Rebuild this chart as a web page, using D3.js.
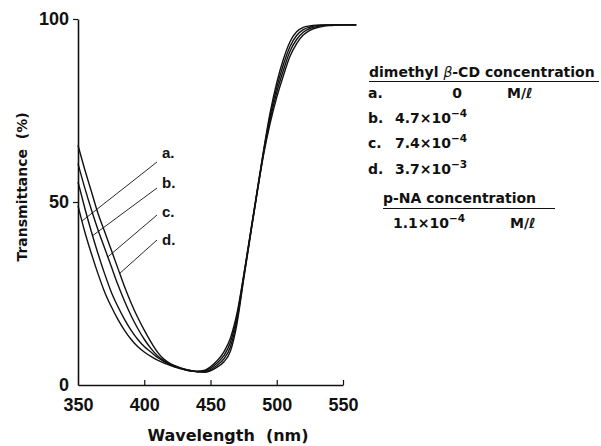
<!DOCTYPE html>
<html>
<head>
<meta charset="utf-8">
<script src="https://cdn.jsdelivr.net/npm/d3@7/dist/d3.min.js"></script>
<style>
  body { margin: 0; background: #fff; }
  svg text { fill: #111; }
</style>
</head>
<body>
<svg id="chart" width="601" height="446"></svg>
<script>
// wavelength grid (nm)
var wavelengths = [350, 355, 360, 365, 370, 375, 380, 385, 390, 395, 400, 405, 410, 415, 420, 425, 430, 435, 440, 445, 450,
  455, 460, 465, 470, 475, 480, 485, 490, 495, 500, 505, 510, 515, 520, 525, 530, 535, 540, 545, 550, 555, 560];

// transmittance (%)
var seriesA = [49, 42, 36, 30.5, 25.5, 21.5, 18, 15, 12.5, 10.5, 9, 7.8, 6.8, 6, 5.3, 4.7, 4.2, 3.8, 3.8, 4, 5,
  6.6, 9, 12.8, 19.6, 29.9, 41.2, 52.6, 64, 74.4, 82.6, 89, 93.8, 96.5, 97.7, 98.1, 98.3, 98.4, 98.4, 98.4, 98.4, 98.4, 98.4];
var seriesB = [55.5, 48.5, 42, 36, 30.5, 25.5, 21.5, 18, 15, 12.5, 10.5, 9, 7.5, 6.4, 5.5, 4.8, 4.3, 3.9, 3.7, 3.8, 4.6,
  6, 8, 11.6, 18.8, 29.6, 41, 52.4, 63.6, 73.5, 81.3, 87.5, 92.5, 95.5, 97.1, 97.8, 98.2, 98.3, 98.4, 98.4, 98.4, 98.4, 98.4];
var seriesC = [60.5, 54, 48, 42.5, 37.5, 32.5, 27.5, 23, 19, 15.5, 12.5, 10, 8, 6.6, 5.6, 4.9, 4.3, 3.9, 3.6, 3.6, 4.2,
  5.4, 7.1, 10.4, 17.8, 29.2, 40.8, 52.2, 63.2, 72.5, 80, 86, 91.2, 94.4, 96.4, 97.4, 97.9, 98.2, 98.3, 98.4, 98.4, 98.4, 98.4];
var seriesD = [65.5, 59, 53, 47, 42, 37, 32, 27, 22.5, 18.5, 15, 11.8, 9, 7, 5.8, 5, 4.4, 4, 3.6, 3.5, 3.9,
  4.9, 6.3, 9.2, 16.8, 28.8, 40.5, 52, 62.8, 71.5, 78.6, 84.5, 89.8, 93.3, 95.6, 96.9, 97.6, 98, 98.2, 98.3, 98.4, 98.4, 98.4];

var seriesNames = ["a.", "b.", "c.", "d."];
// wavelength where each leader line meets its curve
var leaderWl = [353, 361, 372.5, 381.5];

var xTicks = [350, 400, 450, 500, 550];
var yTicks = [0, 50, 100];

var legendTitle = "concentration";
var legendConc = ["0", "4.7×10", "7.4×10", "3.7×10"];
var legendExp = ["", "−4", "−4", "−3"];
var pnaConc = "1.1×10";
var pnaExp = "−4";

var svg = d3.select("#chart");

var x = d3.scaleLinear().domain([350, 550]).range([78, 343]);
var y = d3.scaleLinear().domain([0, 100]).range([385, 19]);

var tickFont = "'Liberation Sans', Arial, sans-serif";
var textFont = "'DejaVu Sans', sans-serif";

// axes
var xAxis = svg.append("g")
  .attr("transform", "translate(0," + y(0) + ")")
  .call(d3.axisBottom(x).tickValues(xTicks).tickSize(-5).tickSizeOuter(0).tickPadding(13));
var yAxis = svg.append("g")
  .attr("transform", "translate(" + x(350) + ",0)")
  .call(d3.axisLeft(y).tickValues(yTicks).tickSize(5).tickSizeOuter(0).tickPadding(4));

[xAxis, yAxis].forEach(function(g) {
  g.select(".domain").attr("stroke", "#111").attr("stroke-width", 1.6);
  g.selectAll(".tick line").attr("stroke", "#111").attr("stroke-width", 1.2);
  g.selectAll(".tick text")
    .attr("fill", "#111")
    .style("font-family", tickFont)
    .style("font-weight", "bold")
    .style("font-size", "18px");
});
yAxis.selectAll(".tick").filter(function(d) { return d === 0; }).select("line").remove();
xAxis.selectAll(".tick").filter(function(d) { return d === 350; }).select("line").remove();

// axis titles
svg.append("text")
  .attr("x", 228).attr("y", 441)
  .attr("text-anchor", "middle")
  .style("font-family", textFont).style("font-weight", "bold").style("font-size", "16px")
  .attr("xml:space", "preserve")
  .text("Wavelength  (nm)");

svg.append("text")
  .attr("transform", "translate(27,187) rotate(-90)")
  .attr("text-anchor", "middle")
  .style("font-family", textFont).style("font-weight", "bold").style("font-size", "14px")
  .attr("xml:space", "preserve")
  .text("Transmittance  (%)");

// curves
var allSeries = [seriesA, seriesB, seriesC, seriesD];
var line = d3.line()
  .x(function(d) { return x(d[0]); })
  .y(function(d) { return y(d[1]); })
  .curve(d3.curveMonotoneX);

svg.append("g").selectAll("path")
  .data(allSeries)
  .enter().append("path")
  .attr("d", function(s) {
    return line(s.map(function(v, i) { return [wavelengths[i], v]; }));
  })
  .attr("fill", "none")
  .attr("stroke", "#111")
  .attr("stroke-width", 1.4);

// curve labels with leader lines
var labelX = 162;
var labelBase = [158, 188, 217, 245];
var leaderTop = [162, 188, 215, 240];

function valueAt(s, wl) {
  var i = d3.bisectLeft(wavelengths, wl);
  if (i <= 0) return s[0];
  var t = (wl - wavelengths[i - 1]) / (wavelengths[i] - wavelengths[i - 1]);
  return s[i - 1] + t * (s[i] - s[i - 1]);
}

var labels = svg.append("g").selectAll("g")
  .data(seriesNames)
  .enter().append("g");

labels.append("line")
  .attr("x1", labelX - 5)
  .attr("y1", function(d, i) { return leaderTop[i]; })
  .attr("x2", function(d, i) { return x(leaderWl[i]); })
  .attr("y2", function(d, i) { return y(valueAt(allSeries[i], leaderWl[i])); })
  .attr("stroke", "#111")
  .attr("stroke-width", 0.9);

labels.append("text")
  .attr("x", labelX)
  .attr("y", function(d, i) { return labelBase[i]; })
  .style("font-family", tickFont).style("font-weight", "bold").style("font-size", "15px")
  .text(function(d) { return d; });

// legend block
var lg = svg.append("g")
  .style("font-family", textFont)
  .style("font-weight", "bold")
  .style("font-size", "14px");

var head = lg.append("text").attr("x", 369).attr("y", 77);
head.append("tspan").text("dimethyl ");
head.append("tspan").style("font-style", "italic").style("font-weight", "normal").text("β");
head.append("tspan").text("-CD " + legendTitle);
lg.append("line")
  .attr("x1", 369).attr("x2", 599).attr("y1", 81.5).attr("y2", 81.5)
  .attr("stroke", "#111").attr("stroke-width", 1.2);

var rowBase = [98, 123, 148, 174];
seriesNames.forEach(function(name, i) {
  lg.append("text").attr("x", 368).attr("y", rowBase[i]).text(name);
  var t = lg.append("text")
    .attr("x", i === 0 ? 457 : 395)
    .attr("y", rowBase[i])
    .attr("text-anchor", i === 0 ? "middle" : "start");
  t.append("tspan").text(legendConc[i]);
  if (legendExp[i]) {
    t.append("tspan").attr("dy", -6).style("font-size", "10.5px").text(legendExp[i]);
  }
});
lg.append("text").attr("x", 507).attr("y", rowBase[0]).text("M/ℓ");

lg.append("text").attr("x", 383).attr("y", 203).text("p-NA " + legendTitle);
lg.append("line")
  .attr("x1", 383).attr("x2", 555).attr("y1", 208.5).attr("y2", 208.5)
  .attr("stroke", "#111").attr("stroke-width", 1.2);

var pna = lg.append("text").attr("x", 393).attr("y", 228);
pna.append("tspan").text(pnaConc);
pna.append("tspan").attr("dy", -6).style("font-size", "10.5px").text(pnaExp);
lg.append("text").attr("x", 510).attr("y", 228).text("M/ℓ");
</script>
</body>
</html>
